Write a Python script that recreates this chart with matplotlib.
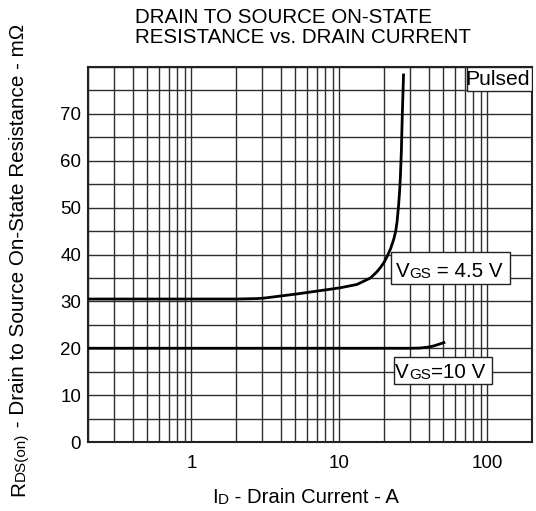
import matplotlib
matplotlib.use("Agg")
import matplotlib.pyplot as plt
from matplotlib.patches import Rectangle
from matplotlib.text import Annotation
from matplotlib.ticker import FixedLocator, NullFormatter

plt.rcParams['font.family'] = ['Liberation Sans', 'DejaVu Sans']

# Data
id_45 = [0.2, 1.0, 2.0, 2.8, 3.1, 5.2, 8.7, 10.1, 13.1, 14.6, 16.2, 17.9, 18.9, 20.0, 21.0, 22.2,
         23.3, 24.0, 24.5, 25.1, 25.5, 25.8, 26.2, 26.6, 27.1]
r_45 = [30.5, 30.5, 30.5, 30.6, 30.7, 31.6, 32.6, 32.9, 33.6, 34.3, 35.0, 36.3, 37.2, 38.3, 39.6, 41.3,
        43.3, 45.0, 47.0, 50.5, 53.5, 56.5, 62.0, 70.0, 78.3]
id_10 = [0.2, 30.0, 35.0, 40.0, 43.4, 47.0, 50.8]
r_10 = [20.0, 20.0, 20.05, 20.25, 20.5, 20.85, 21.2]

x_ticks = [1, 10, 100]
x_ticklabels = ['1', '10', '100']
y_ticks = [0, 10, 20, 30, 40, 50, 60, 70]

fig = plt.figure(figsize=(5.36, 5.11), dpi=100)
ax = fig.add_axes([88/536, 69/511, 444/536, 375/511])
ax.set_xscale('log')
ax.set_xlim(0.2, 200)
ax.set_ylim(0, 80)

# grid
minor_x = [v * d for d in (0.1, 1, 10, 100) for v in range(2, 10) if 0.2 <= v * d <= 200]
ax.xaxis.set_major_locator(FixedLocator(x_ticks))
ax.xaxis.set_minor_locator(FixedLocator(minor_x))
ax.xaxis.set_minor_formatter(NullFormatter())
ax.set_xticklabels(x_ticklabels)
ax.yaxis.set_major_locator(FixedLocator(y_ticks))
ax.yaxis.set_minor_locator(FixedLocator([5, 15, 25, 35, 45, 55, 65, 75, 80]))
ax.grid(True, which='both', color='#2e2e2e', linewidth=1.0)
ax.set_axisbelow(True)
ax.tick_params(which='both', length=0, labelsize=13.5)
ax.tick_params(axis='x', pad=9)
ax.tick_params(axis='y', pad=5)
for s in ax.spines.values():
    s.set_linewidth(1.5)
    s.set_color('#222222')

ax.plot(id_45, r_45, color='black', lw=2, zorder=3)
ax.plot(id_10, r_10, color='black', lw=2, zorder=3)

# Pulsed box
ax.add_patch(Rectangle((0.853, 0.936), 0.147, 0.064, transform=ax.transAxes,
                       facecolor='white', edgecolor='#222222', lw=1, zorder=4))
ax.text(0.996, 0.966, 'Pulsed', transform=ax.transAxes, ha='right', va='center',
        fontsize=15.2, zorder=5)


def chain(prev, text, size, xy=(1, 0), **kw):
    a = Annotation(text, xy=xy, xycoords=prev, fontsize=size, **kw)
    fig.add_artist(a)
    return a


def label(x0, x1, y0, y1, tx, ty, rest):
    ax.add_patch(Rectangle((x0, y0), x1 - x0, y1 - y0, facecolor='white',
                           edgecolor='#222222', lw=1, zorder=4))
    t1 = ax.text(tx, ty, 'V', fontsize=14.8, ha='left', va='baseline', zorder=5)
    t2 = chain(t1, 'GS', 11, ha='left', va='bottom', zorder=5)
    chain(t2, rest, 14.8, ha='left', va='bottom', zorder=5)


label(22.4, 141, 33.7, 40.5, 24.0, 35.3, ' = 4.5 V')
label(23.2, 106.6, 12.4, 18.1, 23.8, 13.6, '=10 V')

# title
fig.text(135/536, 1 - 23/511, 'DRAIN TO SOURCE ON-STATE', fontsize=14.8, ha='left', va='baseline')
fig.text(135/536, 1 - 43/511, 'RESISTANCE vs. DRAIN CURRENT', fontsize=14.8, ha='left', va='baseline')

# x label
xa = fig.text(212/536, 1 - 503/511, 'I', fontsize=14.6, ha='left', va='baseline')
xb = chain(xa, 'D', 11, ha='left', va='bottom')
chain(xb, ' - Drain Current - A', 14.6, ha='left', va='bottom')

# y label (rotated)
ya = fig.text(28/536, 1 - 496/511, 'R', fontsize=14.9, rotation=90, ha='right', va='bottom')
yb = chain(ya, 'DS(on)', 11, xy=(1, 1), rotation=90, ha='right', va='bottom')
chain(yb, ' - Drain to Source On-State Resistance - m\u03a9', 14.9, xy=(1, 1),
      rotation=90, ha='right', va='bottom')

fig.savefig('out.png', dpi=100)
